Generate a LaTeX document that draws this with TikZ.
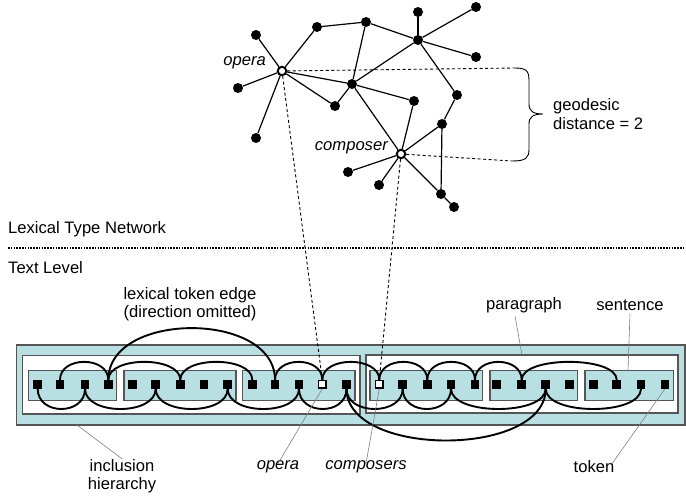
\documentclass[tikz,border=0pt]{standalone}
\usepackage{fontspec}
\setmainfont{Liberation Sans}
\definecolor{boxblue}{RGB}{184,224,226}
\definecolor{boxedge}{RGB}{85,85,85}
\begin{document}
\begin{tikzpicture}[x=1pt,y=-1pt,
  net/.style={line width=1.2pt},
  dot/.style={circle,fill=black,inner sep=0pt,minimum size=10pt},
  wdot/.style={circle,draw=black,fill=white,line width=2pt,inner sep=0pt,minimum size=8.5pt},
  tok/.style={rectangle,fill=black,inner sep=0pt,minimum size=8.5pt},
  wtok/.style={rectangle,draw=black,fill=white,line width=1.4pt,inner sep=0pt,minimum size=7.5pt},
  dsh/.style={dash pattern=on 3pt off 2.5pt, line width=0.9pt},
  arcline/.style={line width=1.9pt},
  leader/.style={draw=gray, line width=0.6pt},
  lbl/.style={font=\fontsize{16.6}{18.5}\selectfont, align=center, inner sep=0pt},
  ilbl/.style={lbl, font=\fontsize{16.6}{18.5}\selectfont\itshape},
  outerbox/.style={rectangle,draw=boxedge,fill=boxblue,line width=1.2pt,inner sep=0pt},
  parbox/.style={rectangle,draw=boxedge,fill=white,line width=1.2pt,inner sep=0pt},
  sentbox/.style={rectangle,draw=boxedge,fill=boxblue,line width=1.2pt,inner sep=0pt}
]
\useasboundingbox (0,0) rectangle (686,498);

% ---------- network ----------
\node[wdot] (opera) at (282,71) {};
\node[wdot] (composer) at (401,154) {};
\node[dot] (na) at (256,35) {};
\node[dot] (nb) at (238,88) {};
\node[dot] (nc) at (256,138) {};
\node[dot] (nd) at (317,27) {};
\node[dot] (ne) at (366,22) {};
\node[dot] (nf) at (418,40) {};
\node[dot] (ng) at (418,12) {};
\node[dot] (nh) at (476,7) {};
\node[dot] (ni) at (476,57) {};
\node[dot] (nj) at (352,84) {};
\node[dot] (nk) at (335,106) {};
\node[dot] (nl) at (414,101) {};
\node[dot] (nm) at (457,95) {};
\node[dot] (nn) at (442,124) {};
\node[dot] (no) at (348,172) {};
\node[dot] (np) at (379,185) {};
\node[dot] (nq) at (441,194) {};
\node[dot] (nr) at (454,207) {};

\foreach \u/\v in {opera/na,opera/nb,opera/nc,opera/nd,opera/nj,opera/nk,
  nd/ne,ne/nj,ne/nf,nf/ng,nf/nh,nf/ni,nf/nj,nf/nm,
  nj/nk,nj/nl,nj/composer,nl/composer,nm/nn,nn/composer,nn/nq,
  composer/no,composer/np,composer/nq,nq/nr}
  \draw[net] (\u) -- (\v);

\node[ilbl,anchor=east] (operalbl) at (266,63) {opera};
\node[ilbl,anchor=east] (complbl) at (388,148) {composer};

% geodesic distance
\coordinate (geoTop) at (515,68);
\coordinate (geoBot) at (512,161);
\draw[dsh] (opera) -- (geoTop);
\draw[dsh] (composer) -- (geoBot);
\draw[line width=0.9pt] (geoTop) .. controls (528,68) and (529,72) .. (529,82) -- (529,104)
  .. controls (529,111) and (533,114) .. (543,114)
  .. controls (533,114) and (529,117) .. (529,124) -- (529,149)
  .. controls (529,158) and (526,161) .. (geoBot);
\node[lbl,anchor=west,align=left] (geolbl) at (553,114) {geodesic\\distance = 2};

% ---------- separator ----------
\node[lbl,anchor=west] (ltn) at (8,229) {Lexical Type Network};
\coordinate (sepL) at (8,248);
\coordinate (sepR) at (686,248);
\draw[line width=2.2pt, dash pattern=on 1.5pt off 1.3pt] (sepL) -- (sepR);
\node[lbl,anchor=west] (tl) at (8,268) {Text Level};

% ---------- text level boxes ----------
\node[outerbox,minimum width=668.3pt,minimum height=80pt] (outer) at (350.85,385) {};
\node[parbox,minimum width=337.3pt,minimum height=58.3pt] (par1) at (191.35,384.85) {};
\node[parbox,minimum width=312pt,minimum height=58pt] (par2) at (522,384) {};
\node[sentbox,minimum width=88.4pt,minimum height=30pt] (s1) at (72.5,385.7) {};
\node[sentbox,minimum width=112pt,minimum height=30pt] (s2) at (180,385.7) {};
\node[sentbox,minimum width=112.3pt,minimum height=30pt] (s3) at (298.85,385.7) {};
\node[sentbox,minimum width=112.7pt,minimum height=30pt] (s4) at (426.35,385.5) {};
\node[sentbox,minimum width=87.3pt,minimum height=30pt] (s5) at (533.65,385.5) {};
\node[sentbox,minimum width=88.3pt,minimum height=30pt] (s6) at (629.15,385.5) {};

% tokens
\foreach \i/\x in {1/37.7,2/60,3/85,4/108.3,5/132.7,6/155.7,7/180.3,8/204,9/227.7,
  10/252.3,11/275,12/299,14/346.5,16/402.7,17/427.3,18/451,19/475,
  20/496.7,21/521.7,22/545.7,23/569.3,24/593.3,25/616.7,26/641,27/665}
  \node[tok] (t\i) at (\x,384.3) {};
\node[wtok] (t13) at (322.3,384.3) {};
\node[wtok] (t15) at (379.3,384.3) {};

% arcs above
\foreach \a/\b in {2/4,4/7,7/10,11/13,13/15,15/17,17/19,19/21,21/25}
  \draw[arcline] (t\a.north) .. controls +(0,-24) and +(0,-24) .. (t\b.north);
\draw[arcline] (t4.north) .. controls +(0,-69) and +(0,-69) .. (t11.north);
% arcs below
\foreach \a/\b in {1/3,3/6,6/9,9/12,12/14,14/16,16/18,18/22,22/26}
  \draw[arcline] (t\a.south) .. controls +(0,27) and +(0,27) .. (t\b.south);
\draw[arcline] (t14.south) .. controls +(0,69) and +(0,69) .. (t22.south);

% dashed projections
\draw[dsh] (opera) -- (t13.north);
\draw[dsh] (composer) -- (t15.north);

% ---------- labels ----------
\node[lbl] (lte) at (190,304) {lexical token edge\\(direction omitted)};
\node[lbl] (paralbl) at (524,305) {paragraph};
\node[lbl] (sentlbl) at (630,305) {sentence};
\node[lbl] (inclbl) at (122,476) {inclusion\\hierarchy};
\node[ilbl] (operatok) at (278,467) {opera};
\node[ilbl] (comptok) at (366,467) {composers};
\node[lbl] (toklbl) at (594,467) {token};

\coordinate (parpt) at (522,355);
\coordinate (sentpt) at (628,370.7);
\coordinate (incpt) at (77,425);
\draw[leader] (paralbl.south) ++(-9,3) coordinate (parst) -- (parpt);
\draw[leader] (sentlbl.south) ++(0,3) coordinate (sentst) -- (sentpt);
\draw[leader] (incpt) -- (inclbl.north);
\draw[leader] (t13.south) -- ([yshift=-3pt]operatok.north);
\draw[leader] (t15.south) -- ([yshift=-3pt]comptok.north);
\draw[leader] (t27.south) -- ([xshift=18pt,yshift=-3pt]toklbl.north);
\end{tikzpicture}
\end{document}
